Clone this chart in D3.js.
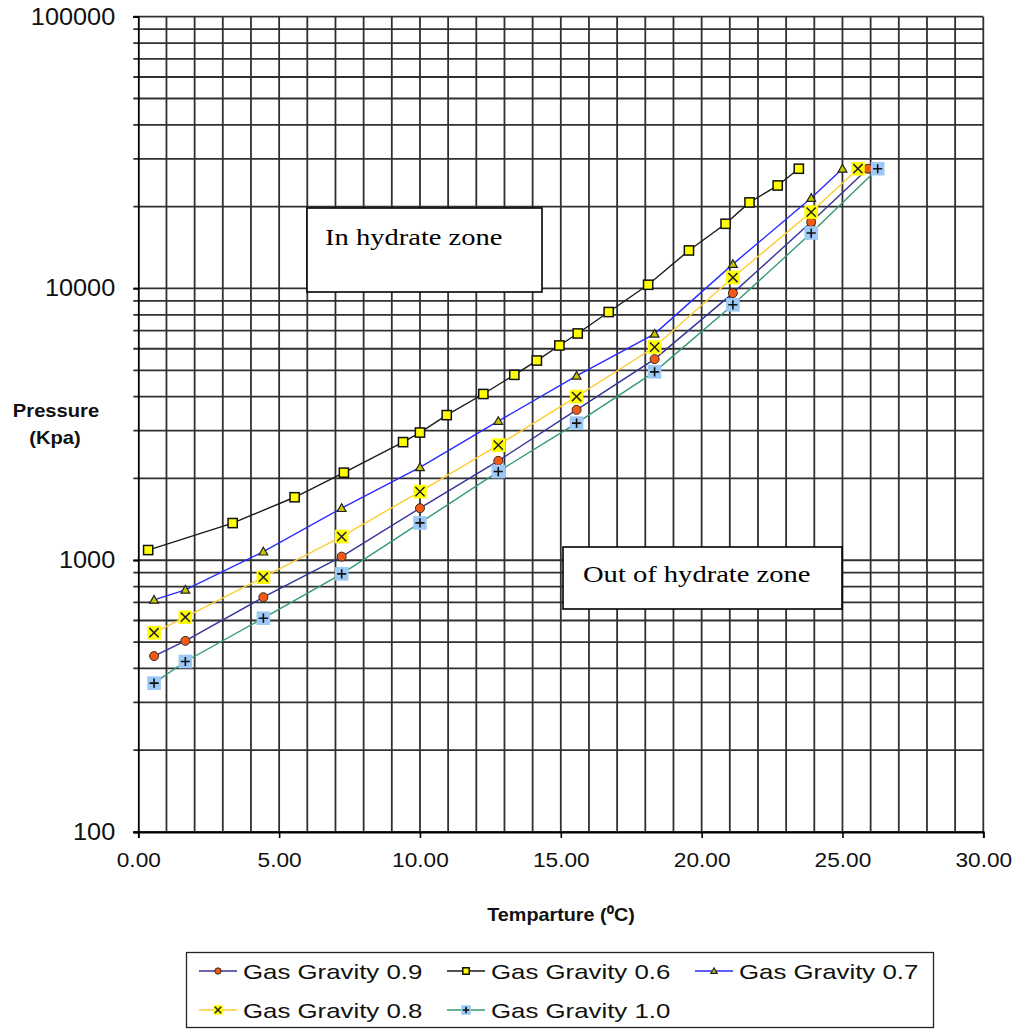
<!DOCTYPE html>
<html>
<head>
<meta charset="utf-8">
<script src="https://cdn.jsdelivr.net/npm/d3@7"></script>
<style>
  html, body { margin: 0; padding: 0; background: #fff; }
  svg { display: block; }
</style>
</head>
<body>
<svg id="chart" width="1021" height="1032"></svg>
<script>
// Hydrate formation pressure vs temperature for several gas gravities
const seriesNames = ["Gas Gravity 0.9", "Gas Gravity 0.6", "Gas Gravity 0.7", "Gas Gravity 0.8", "Gas Gravity 1.0"];

const tempSG06 = [0.35, 3.35, 5.55, 7.3, 9.4, 10.0, 10.95, 12.25, 13.35, 14.15, 14.95, 15.6, 16.7, 18.1, 19.55, 20.85, 21.7, 22.7, 23.45];
const presSG06 = [1090, 1370, 1705, 2100, 2720, 2950, 3420, 4090, 4810, 5430, 6170, 6830, 8190, 10320, 13800, 17300, 20730, 23930, 27580];

const tempSG07 = [0.56, 1.67, 4.44, 7.22, 10.0, 12.78, 15.56, 18.33, 21.11, 23.89, 25.0];
const presSG07 = [715, 778, 1075, 1554, 2196, 3250, 4770, 6810, 12290, 21510, 27580];

const tempSG08 = [0.56, 1.67, 4.44, 7.22, 10.0, 12.78, 15.56, 18.33, 21.11, 23.89, 25.55];
const presSG08 = [541, 617, 866, 1222, 1789, 2652, 4002, 6087, 10970, 19100, 27580];

const tempSG09 = [0.56, 1.67, 4.44, 7.22, 10.0, 12.78, 15.56, 18.33, 21.11, 23.89, 25.9];
const presSG09 = [444, 505, 731, 1031, 1554, 2321, 3576, 5495, 9613, 17550, 27580];

const tempSG10 = [0.56, 1.67, 4.44, 7.22, 10.0, 12.78, 15.56, 18.33, 21.11, 23.89, 26.25];
const presSG10 = [353, 424, 612, 891, 1372, 2120, 3195, 4934, 8708, 15990, 27580];

const xTickValues = [0, 5, 10, 15, 20, 25, 30];
const yTickValues = [100, 1000, 10000, 100000];

const svg = d3.select("#chart");
const plotLeft = 138.3, plotRight = 983.3, plotTop = 16.7, plotBottom = 832;

const x = d3.scaleLinear().domain([0, 30]).range([plotLeft, plotRight]);
const y = d3.scaleLog().domain([100, 100000]).range([plotBottom, plotTop]);

const SANS = "'Liberation Sans', Arial, sans-serif";
const SERIF = "'Liberation Serif', 'Times New Roman', serif";

function label(parent, px, py, str, o) {
  return parent.append("text")
    .attr("transform", `translate(${px},${py}) scale(${o.sx || 1},1)`)
    .attr("text-anchor", o.anchor || "start")
    .attr("font-family", o.family || SANS)
    .attr("font-size", o.size)
    .attr("font-weight", o.weight || "normal")
    .attr("fill", o.fill || "#111")
    .text(str);
}

// grid
const grid = svg.append("g");
grid.selectAll("line.v").data(d3.range(1, 31)).join("line")
  .attr("x1", d => x(d)).attr("x2", d => x(d))
  .attr("y1", plotTop).attr("y2", plotBottom)
  .attr("stroke", "#303030").attr("stroke-width", 1.8);
grid.selectAll("line.h").data(y.ticks()).join("line")
  .attr("x1", plotLeft - 5).attr("x2", plotRight)
  .attr("y1", d => y(d)).attr("y2", d => y(d))
  .attr("stroke", "#303030").attr("stroke-width", 1.8);

// axes
const xAxis = svg.append("g").attr("transform", `translate(0,${plotBottom})`)
  .call(d3.axisBottom(x).tickValues(xTickValues).tickSize(6).tickPadding(14).tickFormat(d3.format(".2f")));
xAxis.select(".domain").attr("stroke", "#000").attr("stroke-width", 1.8);
xAxis.selectAll(".tick line").attr("stroke", "#000").attr("stroke-width", 1.6);
xAxis.selectAll(".tick text").attr("font-family", SANS).attr("font-size", 21).attr("fill", "#111")
  .attr("transform", "scale(1.08,1)");

const yAxis = svg.append("g").attr("transform", `translate(${plotLeft},0)`)
  .call(d3.axisLeft(y).tickValues(yTickValues).tickSize(5).tickPadding(16).tickFormat(d3.format("d")));
yAxis.select(".domain").attr("stroke", "#000").attr("stroke-width", 1.8);
yAxis.selectAll(".tick line").attr("stroke", "#000").attr("stroke-width", 1.6);
yAxis.selectAll(".tick text").attr("font-family", SANS).attr("font-size", 23).attr("fill", "#111")
  .attr("transform", "scale(1.1,1)");

// axis titles
label(svg, 56, 417, "Pressure", { size: 18, weight: "bold", anchor: "middle", sx: 1.12 });
label(svg, 55, 444, "(Kpa)", { size: 18, weight: "bold", anchor: "middle", sx: 1.12 });
label(svg, 561, 921, "Temparture (\u2070C)", { size: 18, weight: "bold", anchor: "middle", sx: 1.1 });

// zone annotations
function zoneBox(x0, y0, w, h, str, tx, ty) {
  svg.append("rect").attr("x", x0).attr("y", y0).attr("width", w).attr("height", h)
    .attr("fill", "#fff").attr("stroke", "#000").attr("stroke-width", 1.6);
  label(svg, tx, ty, str, { size: 24, family: SERIF, sx: 1.19, fill: "#000" });
}
zoneBox(307, 208, 235, 84, "In hydrate zone", 325, 245);
zoneBox(563, 547, 279, 62, "Out of hydrate zone", 583, 582);

// series styles
const styles = {
  "Gas Gravity 0.9": { color: "#333399", marker: "circle" },
  "Gas Gravity 0.6": { color: "#1a1a1a", marker: "square" },
  "Gas Gravity 0.7": { color: "#2b2bff", marker: "triangle" },
  "Gas Gravity 0.8": { color: "#ffcc33", marker: "cross" },
  "Gas Gravity 1.0": { color: "#339977", marker: "plus" }
};
const seriesData = {
  "Gas Gravity 0.9": tempSG09.map((t, i) => [t, presSG09[i]]),
  "Gas Gravity 0.6": tempSG06.map((t, i) => [t, presSG06[i]]),
  "Gas Gravity 0.7": tempSG07.map((t, i) => [t, presSG07[i]]),
  "Gas Gravity 0.8": tempSG08.map((t, i) => [t, presSG08[i]]),
  "Gas Gravity 1.0": tempSG10.map((t, i) => [t, presSG10[i]])
};

function drawMarker(g, kind, cx, cy, k) {
  const s = k || 1;
  if (kind === "circle") {
    g.append("circle").attr("cx", cx).attr("cy", cy).attr("r", 4.5 * s)
      .attr("fill", "#f05a14").attr("stroke", "#3a2a20").attr("stroke-width", 1);
  } else if (kind === "square") {
    const h = 4.6 * s;
    g.append("rect").attr("x", cx - h).attr("y", cy - h).attr("width", 2 * h).attr("height", 2 * h)
      .attr("fill", "#ffff00").attr("stroke", "#111").attr("stroke-width", 1.5);
  } else if (kind === "triangle") {
    const h = 4.4 * s;
    g.append("path").attr("d", `M${cx},${cy - h}L${cx + h},${cy + h * 0.75}L${cx - h},${cy + h * 0.75}Z`)
      .attr("fill", "#c8c800").attr("stroke", "#222").attr("stroke-width", 1.2);
  } else if (kind === "cross") {
    const b = 6.8 * s, h = 4.6 * s;
    g.append("rect").attr("x", cx - b).attr("y", cy - b).attr("width", 2 * b).attr("height", 2 * b)
      .attr("fill", "#ffff00");
    g.append("path").attr("d", `M${cx - h},${cy - h}L${cx + h},${cy + h}M${cx - h},${cy + h}L${cx + h},${cy - h}`)
      .attr("stroke", "#222").attr("stroke-width", 1.5);
  } else if (kind === "plus") {
    const b = 6.8 * s, h = 4.6 * s;
    g.append("rect").attr("x", cx - b).attr("y", cy - b).attr("width", 2 * b).attr("height", 2 * b)
      .attr("fill", "#9cc9f5");
    g.append("path").attr("d", `M${cx - h},${cy}L${cx + h},${cy}M${cx},${cy - h}L${cx},${cy + h}`)
      .attr("stroke", "#111").attr("stroke-width", 1.6);
  }
}

const line = d3.line().x(d => x(d[0])).y(d => y(d[1]));
const plot = svg.append("g");
seriesNames.forEach(name => {
  const st = styles[name];
  const g = plot.append("g");
  g.append("path").datum(seriesData[name]).attr("d", line)
    .attr("fill", "none").attr("stroke", st.color).attr("stroke-width", 1.4);
  seriesData[name].forEach(d => drawMarker(g, st.marker, x(d[0]), y(d[1])));
});

// legend
const legend = svg.append("g");
legend.append("rect").attr("x", 186.5).attr("y", 952.5).attr("width", 747).attr("height", 75)
  .attr("fill", "#fff").attr("stroke", "#222").attr("stroke-width", 1.3);
const legendPos = [
  [199, 971], [447, 971], [695, 971],
  [199, 1010], [447, 1010]
];
seriesNames.forEach((name, i) => {
  const [lx, ly] = legendPos[i];
  const st = styles[name];
  legend.append("line").attr("x1", lx).attr("x2", lx + 38).attr("y1", ly).attr("y2", ly)
    .attr("stroke", st.color).attr("stroke-width", 1.5);
  drawMarker(legend, st.marker, lx + 19, ly, 0.7);
  label(legend, lx + 44, ly + 8, name, { size: 21, sx: 1.23 });
});
</script>
</body>
</html>
